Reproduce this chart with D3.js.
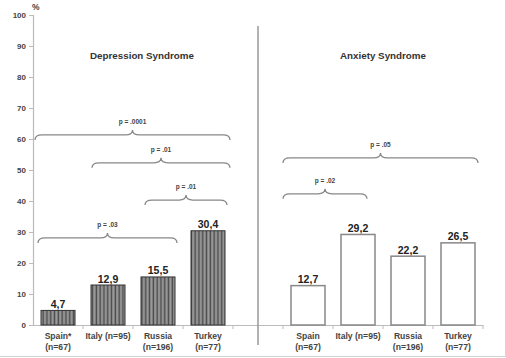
<!DOCTYPE html>
<html><head><meta charset="utf-8">
<script src="https://cdn.jsdelivr.net/npm/d3@7"></script>
<style>body{margin:0;background:#fff}svg{display:block;font-family:"Liberation Sans",Arial,sans-serif;font-weight:bold}</style>
</head><body><svg id="c" width="506" height="358"></svg>
<script>
const depCategories = ["Spain*|(n=67)", "Italy (n=95)", "Russia|(n=196)", "Turkey|(n=77)"];
const anxCategories = ["Spain|(n=67)", "Italy (n=95)", "Russia|(n=196)", "Turkey|(n=77)"];
const depValues = [4.7, 12.9, 15.5, 30.4];
const anxValues = [12.7, 29.2, 22.2, 26.5];
const depLabels = ["4,7", "12,9", "15,5", "30,4"];
const anxLabels = ["12,7", "29,2", "22,2", "26,5"];
const yTicks = [0, 10, 20, 30, 40, 50, 60, 70, 80, 90, 100];
const panelTitles = ["Depression Syndrome", "Anxiety Syndrome"];
// brackets: start/end in band-index units, level in %, p-value text
const bracketStart = [0.04, 1.18, 2.24, 0.10, 5.00, 5.00];
const bracketEnd   = [3.94, 3.94, 3.88, 2.88, 8.90, 6.68];
const bracketLevel = [61.3, 52.3, 40.3, 28.1, 53.9, 42.3];
const bracketText  = ["p = .0001", "p = .01", "p = .01", "p = .03", "p = .05", "p = .02"];

const svg = d3.select("#c");
const slots = ["d0","d1","d2","d3","gap","a0","a1","a2","a3"];
const x = d3.scaleBand().domain(slots).range([33, 483]).paddingInner(0).paddingOuter(0);
const xi = d3.scaleLinear().domain([0, 9]).range([33, 483]);
const y = d3.scaleLinear().domain([0, 100]).range([325, 15]);
const barW = x.bandwidth() * 0.68;

// frame
svg.append("line").attr("x1",505.5).attr("x2",505.5).attr("y1",0).attr("y2",356.5).attr("stroke","#d4d4d4");
svg.append("line").attr("x1",0).attr("x2",505.5).attr("y1",356.5).attr("y2",356.5).attr("stroke","#d4d4d4");

// stripe pattern
const defs = svg.append("defs");
const pat = defs.append("pattern").attr("id","stripes").attr("patternUnits","userSpaceOnUse")
  .attr("width",3.8).attr("height",10);
pat.append("rect").attr("width",3.8).attr("height",10).attr("fill","#9a9a9a");
pat.append("rect").attr("x",0.6).attr("width",1.5).attr("height",10).attr("fill","#4a4a4a");

// y axis
const yAxis = d3.axisLeft(y).tickValues(yTicks).tickSize(4).tickPadding(3);
const gy = svg.append("g").attr("transform","translate(33,0)").call(yAxis);
gy.select(".domain").attr("stroke","#bbb").attr("stroke-width",1.2);
gy.selectAll(".tick line").attr("stroke","#bbb");
gy.selectAll(".tick text").attr("font-size",8).attr("font-weight","bold").attr("fill","#444")
  .attr("font-family","Liberation Sans, Arial, sans-serif");
svg.append("text").attr("x",32).attr("y",10).attr("font-size",8.5).attr("fill","#444").text("%");

// x axis
const xAxis = d3.axisBottom(x).tickValues([]).tickSizeOuter(0);
const gx = svg.append("g").attr("transform","translate(0,325)").call(xAxis);
gx.select(".domain").attr("stroke","#bbb").attr("stroke-width",1.2);
gx.selectAll(".bt").data(slots.slice(1).concat(["end"])).enter().append("line")
  .attr("x1",(d,i)=>xi(i+1)).attr("x2",(d,i)=>xi(i+1)).attr("y1",0).attr("y2",4).attr("stroke","#bbb");

// divider
svg.append("line").attr("x1",x("gap")+x.bandwidth()/2).attr("x2",x("gap")+x.bandwidth()/2)
  .attr("y1",26).attr("y2",345).attr("stroke","#999").attr("stroke-width",1.5);

// bars
const dep = depValues.map((v,i)=>({slot:"d"+i, v, lab:depLabels[i], cat:depCategories[i]}));
const anx = anxValues.map((v,i)=>({slot:"a"+i, v, lab:anxLabels[i], cat:anxCategories[i]}));
const cx = d => x(d.slot) + x.bandwidth()/2;

svg.selectAll(".dbar").data(dep).enter().append("rect")
  .attr("x",d=>cx(d)-barW/2).attr("y",d=>y(d.v)).attr("width",barW).attr("height",d=>y(0)-y(d.v))
  .attr("fill","url(#stripes)").attr("stroke","#333").attr("stroke-width",1);
svg.selectAll(".abar").data(anx).enter().append("rect")
  .attr("x",d=>cx(d)-barW/2).attr("y",d=>y(d.v)).attr("width",barW).attr("height",d=>y(0)-y(d.v))
  .attr("fill","#fff").attr("stroke","#888").attr("stroke-width",1.5);

const all = dep.concat(anx);
svg.selectAll(".vl").data(all).enter().append("text")
  .attr("x",cx).attr("y",d=>y(d.v)-2.5).attr("text-anchor","middle")
  .attr("font-size",10.5).attr("fill","#222").text(d=>d.lab);

const cl = svg.selectAll(".cl").data(all).enter().append("text")
  .attr("x",cx).attr("y",339).attr("text-anchor","middle").attr("font-size",8.6).attr("fill","#444");
cl.selectAll("tspan").data(d=>d.cat.split("|").map(s=>({s, x:cx(d)}))).enter().append("tspan")
  .attr("x",t=>t.x).attr("dy",(t,i)=>i?10.5:0).text(t=>t.s);

// titles
svg.selectAll(".tt").data(panelTitles).enter().append("text")
  .attr("x",(d,i)=>i?383:142).attr("y",58.5).attr("text-anchor","middle")
  .attr("font-size",9.8).attr("fill","#333").text(d=>d);

// brackets
const br = bracketText.map((t,i)=>({t, x0:xi(bracketStart[i]), x1:xi(bracketEnd[i]), yy:y(bracketLevel[i])}));
function brace(d){
  const m=(d.x0+d.x1)/2, h=5, c=7;
  return `M${d.x0},${d.yy+h} Q${d.x0},${d.yy} ${d.x0+c},${d.yy} L${m-c},${d.yy} Q${m},${d.yy} ${m},${d.yy-h}`+
         ` Q${m},${d.yy} ${m+c},${d.yy} L${d.x1-c},${d.yy} Q${d.x1},${d.yy} ${d.x1},${d.yy+h}`;
}
svg.selectAll(".br").data(br).enter().append("path").attr("d",brace)
  .attr("fill","none").attr("stroke","#888").attr("stroke-width",1.3);
svg.selectAll(".bl").data(br).enter().append("text")
  .attr("x",d=>(d.x0+d.x1)/2).attr("y",d=>d.yy-11).attr("text-anchor","middle")
  .attr("font-size",6.5).attr("fill","#444").text(d=>d.t);
</script></body></html>
